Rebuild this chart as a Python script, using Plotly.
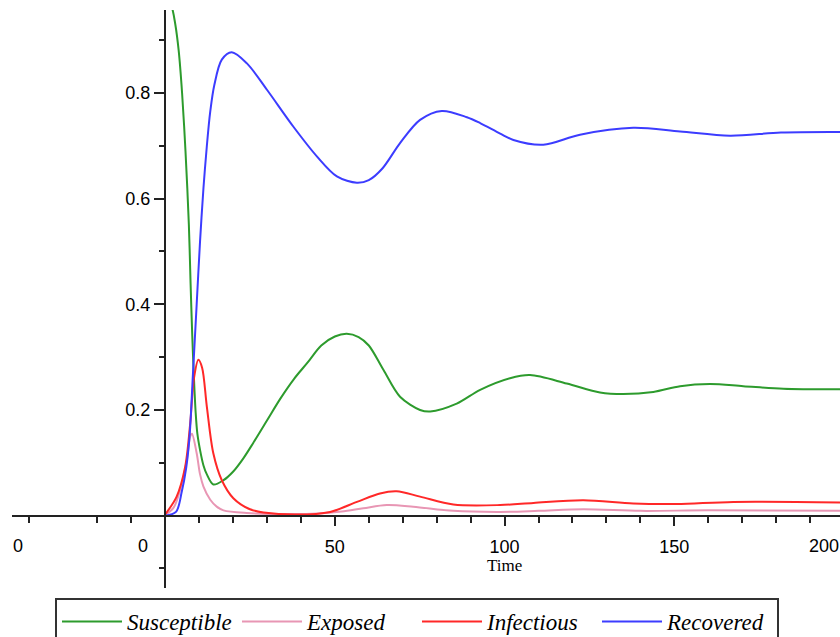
import plotly.graph_objects as go

# ---- data ----
t_S = [0, 2, 3, 4, 5, 6, 7, 7.5, 8, 8.5, 9, 9.5, 10.3, 11.3, 12.3, 14.2, 17.2, 20, 23, 26, 30, 34, 38,
       42, 46, 50, 53.5, 57, 60, 64.3, 69.2, 75.1, 78.1, 85.9, 92.8, 101.6, 107.5, 118.3, 128.1,
       135.0, 143.8, 151.7, 160.5, 170.3, 182.1, 198.8]
S = [0.99, 0.962, 0.93, 0.88, 0.80, 0.69, 0.55, 0.44, 0.34, 0.26, 0.195, 0.155, 0.124, 0.095, 0.078,
     0.059, 0.067, 0.083, 0.108, 0.138, 0.180, 0.222, 0.259, 0.290, 0.322, 0.339, 0.344, 0.338, 0.322,
     0.276, 0.225, 0.200, 0.197, 0.212, 0.238, 0.260, 0.266, 0.250, 0.233, 0.230, 0.234, 0.245, 0.249,
     0.245, 0.240, 0.239]

t_E = [0, 2.5, 4.4, 6.4, 7.4, 7.9, 9.3, 10.3, 11.3, 13.3, 15.2, 17.2, 24.0, 35.0, 45.0, 52.0, 58.4,
       65.3, 73.1, 84.9, 98.7, 110.0, 123.2, 140.0, 160.0, 198.8]
E = [0.001, 0.015, 0.048, 0.105, 0.150, 0.155, 0.118, 0.078, 0.055, 0.030, 0.017, 0.010, 0.005, 0.003,
     0.004, 0.008, 0.014, 0.020, 0.017, 0.009, 0.007, 0.009, 0.012, 0.009, 0.010, 0.009]

t_I = [0, 3.4, 5.9, 7.4, 8.5, 9.8, 10.9, 12.3, 14.2, 16.7, 20.1, 25.0, 29.0, 38.8, 48.6, 56.5, 63.3,
       68.2, 75.1, 84.9, 98.7, 108.5, 123.2, 137.9, 150.7, 167.4, 198.8]
I = [0.002, 0.036, 0.092, 0.175, 0.260, 0.295, 0.280, 0.206, 0.118, 0.067, 0.033, 0.012, 0.006, 0.002,
     0.007, 0.026, 0.042, 0.046, 0.036, 0.021, 0.020, 0.024, 0.029, 0.023, 0.022, 0.026, 0.025]

t_R = [0, 3.2, 4.9, 6.2, 7.2, 8.2, 9.3, 10.3, 11.3, 12.3, 13.3, 14.5, 16.7, 19.6, 24.1, 30.0, 37.8,
       44.7, 50.6, 56.5, 60.0, 64.0, 69.2, 75.1, 81.5, 88.9, 92.8, 98.7, 102.6, 111.4, 122.2, 137.9,
       151.7, 166.4, 181.4, 198.8]
R = [0, 0.007, 0.045, 0.09, 0.150, 0.268, 0.400, 0.520, 0.620, 0.700, 0.765, 0.815, 0.863, 0.877,
     0.856, 0.806, 0.736, 0.680, 0.642, 0.630, 0.635, 0.657, 0.705, 0.749, 0.766, 0.754, 0.743, 0.723,
     0.711, 0.702, 0.721, 0.734, 0.727, 0.719, 0.725, 0.726]

series_names = ["Susceptible", "Exposed", "Infectious", "Recovered"]
series_colors = ["rgb(45,155,45)", "rgb(232,150,180)", "rgb(255,40,40)", "rgb(60,60,255)"]

x_major = [50, 100, 150]
x_major_text = ["50", "100", "150"]
x_minor = [-40, -20, -10, 10, 20, 30, 40, 60, 70, 80, 90, 110, 120, 130, 140, 160, 170, 180, 190]
y_major = [0.2, 0.4, 0.6, 0.8]
y_major_text = ["0.2", "0.4", "0.6", "0.8"]
y_minor = [-0.1, 0.1, 0.3, 0.5, 0.7, 0.9]
extra_x_labels_at = [-43.3, -6.5, 194.1]
extra_x_labels = ["0", "0", "200"]
x_label = "Time"
x_label_at = 100

fig = go.Figure()
for tt, vv, nm, col in zip([t_S, t_E, t_I, t_R], [S, E, I, R], series_names, series_colors):
    fig.add_trace(go.Scatter(x=tt, y=vv, name=nm, mode="lines",
                             line=dict(color=col, width=2, shape="spline", smoothing=0.9)))

W, H = 840, 637
ml, mr, mt, mb = 12, 0, 10, 49
pw, ph = W - ml - mr, H - mt - mb
x_lo, x_hi = -45.1, 198.8
y_lo, y_hi = -0.137, 0.957

tickfont = dict(family="Liberation Sans", size=18, color="black")
fig.update_layout(
    width=W, height=H,
    margin=dict(l=ml, r=mr, t=mt, b=mb, autoexpand=False),
    paper_bgcolor="white", plot_bgcolor="white",
    xaxis=dict(range=[x_lo, x_hi], anchor="free", position=(588 - 515.5) / ph,
               showgrid=False, zeroline=False, showline=True, linecolor="#222", linewidth=2,
               tickmode="array", tickvals=x_major, ticktext=x_major_text,
               ticks="outside", ticklen=9, tickwidth=1.5, tickcolor="#222",
               tickfont=tickfont, ticklabelstandoff=6,
               minor=dict(tickmode="array", tickvals=x_minor, ticks="outside", ticklen=6,
                          tickwidth=1.5, tickcolor="#222")),
    yaxis=dict(range=[y_lo, y_hi], anchor="free", position=(165 - ml) / pw,
               showgrid=False, zeroline=False, showline=True, linecolor="#222", linewidth=2,
               tickmode="array", tickvals=y_major, ticktext=y_major_text,
               ticks="outside", ticklen=10, tickwidth=1.5, tickcolor="#222",
               tickfont=tickfont,
               minor=dict(tickmode="array", tickvals=y_minor, ticks="outside", ticklen=5,
                          tickwidth=1.5, tickcolor="#222")),
    legend=dict(orientation="h", x=(55 - ml) / pw, xanchor="left", y=(588 - 598) / ph, yanchor="top",
                bordercolor="#333", borderwidth=2, bgcolor="white", itemwidth=60,
                entrywidth=105, entrywidthmode="pixels",
                font=dict(family="Liberation Serif", size=23, style="italic", color="black")),
    showlegend=True,
)

for xv, tx in zip(extra_x_labels_at, extra_x_labels):
    fig.add_annotation(x=xv, y=(588 - 546) / ph, xref="x", yref="paper", text=tx, showarrow=False,
                       font=tickfont, xanchor="center", yanchor="middle")
fig.add_annotation(x=x_label_at, y=(588 - 565) / ph, xref="x", yref="paper", text=x_label,
                   showarrow=False, font=dict(family="Liberation Serif", size=17, color="black"),
                   xanchor="center", yanchor="middle")

fig.write_html("out.html")
